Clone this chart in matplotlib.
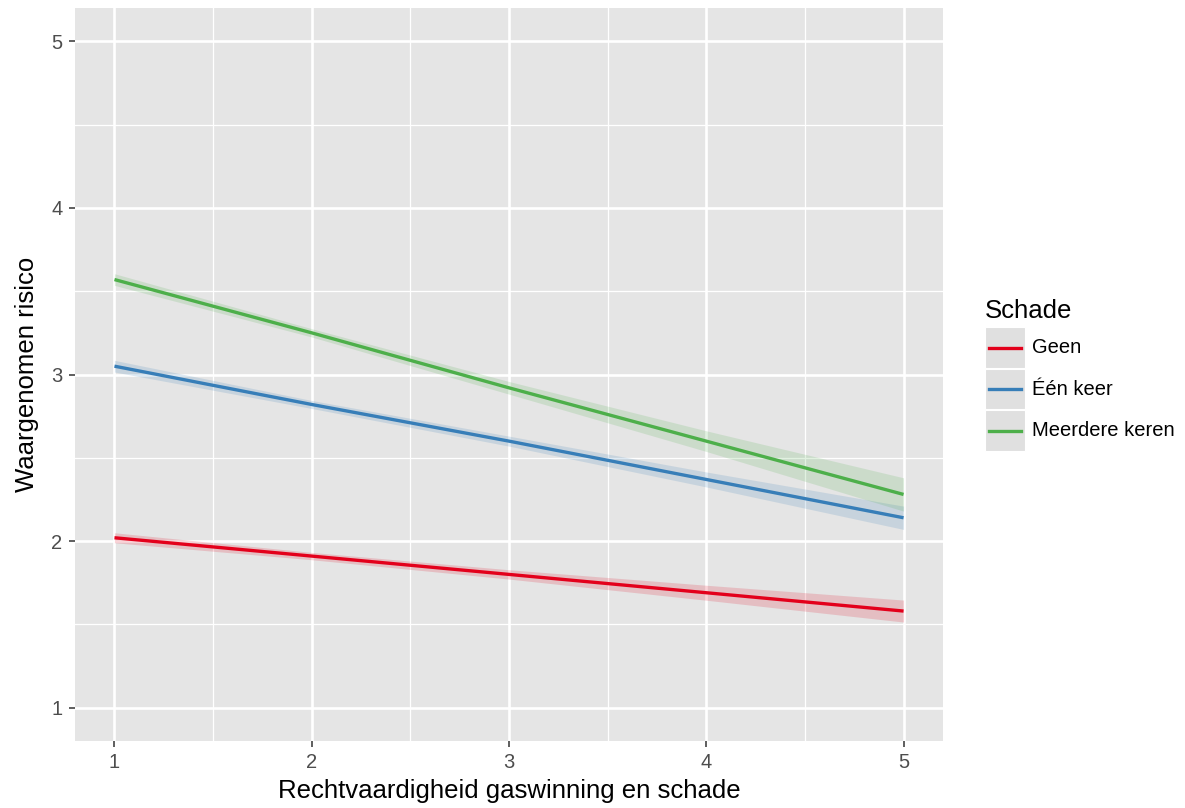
import matplotlib
matplotlib.use("Agg")
import matplotlib.pyplot as plt
from matplotlib.patches import Rectangle
from matplotlib.lines import Line2D

plt.rcParams['font.family'] = ['Liberation Sans', 'DejaVu Sans']

# ---- data ----
categories = ["Geen", "Één keer", "Meerdere keren"]
colors = ["#E3001B", "#377EB8", "#4DAF4A"]
x_vals = [1, 2, 3, 4, 5]
fit_geen = [2.02, 1.91, 1.80, 1.69, 1.58]
fit_een = [3.05, 2.82, 2.60, 2.37, 2.14]
fit_meer = [3.57, 3.25, 2.92, 2.60, 2.28]
halfwidth_geen = [0.030, 0.022, 0.028, 0.045, 0.066]
halfwidth_een = [0.035, 0.024, 0.030, 0.045, 0.070]
halfwidth_meer = [0.035, 0.025, 0.038, 0.062, 0.100]
x_ticks = [1, 2, 3, 4, 5]
y_ticks = [1, 2, 3, 4, 5]
x_label = "Rechtvaardigheid gaswinning en schade"
y_label = "Waargenomen risico"
legend_title = "Schade"

fits = [fit_geen, fit_een, fit_meer]
hws = [halfwidth_geen, halfwidth_een, halfwidth_meer]

W, H = 1185, 808
fig = plt.figure(figsize=(W / 100, H / 100), dpi=100)
fig.patch.set_facecolor("white")
ax = fig.add_axes([75 / W, 1 - 741 / H, (943 - 75) / W, (741 - 8) / H])
ax.set_facecolor("#E5E5E5")
ax.set_xlim(0.8, 5.2)
ax.set_ylim(0.8, 5.2)

# grid
for v in [1.5, 2.5, 3.5, 4.5]:
    ax.axvline(v, color="white", lw=0.9, zorder=0.5)
    ax.axhline(v, color="white", lw=0.9, zorder=0.5)
for v in x_ticks:
    ax.axvline(v, color="white", lw=1.9, zorder=0.6)
for v in y_ticks:
    ax.axhline(v, color="white", lw=1.9, zorder=0.6)

for fit, hw, col in zip(fits, hws, colors):
    lo = [f - h for f, h in zip(fit, hw)]
    hi = [f + h for f, h in zip(fit, hw)]
    ax.fill_between(x_vals, lo, hi, color=col, alpha=0.17, lw=0, zorder=1)
for fit, col in zip(fits, colors):
    ax.plot(x_vals, fit, color=col, lw=2.4, zorder=2, solid_capstyle="butt")

for s in ax.spines.values():
    s.set_visible(False)
ax.set_xticks(x_ticks)
ax.set_yticks(y_ticks)
ax.set_xticklabels([str(t) for t in x_ticks])
ax.set_yticklabels([str(t) for t in y_ticks])
ax.tick_params(axis="both", which="major", length=4, width=1.1, color="#333333",
               labelcolor="#4D4D4D", labelsize=14.5, pad=5)
ax.set_xlabel(x_label, fontsize=18.5, color="black", labelpad=5)
ax.set_ylabel(y_label, fontsize=18.5, color="black", labelpad=9)

# legend (manual)
def fx(px):
    return px / W

def fy(py):
    return 1 - py / H

fig.text(fx(985), fy(318), legend_title, fontsize=18.5, ha="left", va="baseline")
key_h = 41.5
top = 327
for i, (cat, col) in enumerate(zip(categories, colors)):
    y0 = top + i * key_h
    fig.add_artist(Rectangle((fx(985), fy(y0 + key_h - 1)), 40 / W, (key_h - 1) / H,
                             transform=fig.transFigure, facecolor="#E0E0E0",
                             edgecolor="white", lw=0.8))
    yc = y0 + key_h / 2
    fig.add_artist(Line2D([fx(989), fx(1021)], [fy(yc), fy(yc)],
                          transform=fig.transFigure, color=col, lw=2.4))
    fig.text(fx(1032), fy(yc), cat, fontsize=14.5, ha="left", va="center")

fig.savefig("out.png", dpi=100)
